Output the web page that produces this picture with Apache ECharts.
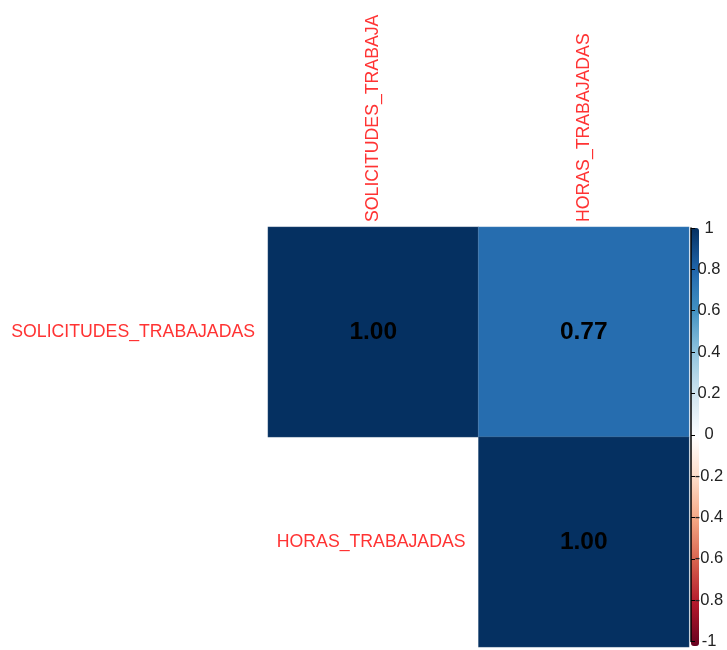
<!DOCTYPE html>
<html>
<head>
<meta charset="utf-8">
<script src="https://cdn.jsdelivr.net/npm/echarts@6/dist/echarts.min.js"></script>
<style>html,body{margin:0;padding:0;background:#fff;}#c{width:727px;height:650px;}</style>
</head>
<body>
<div id="c"></div>
<script>
var variables = ['SOLICITUDES_TRABAJADAS', 'HORAS_TRABAJADAS'];
var colLabels = ['SOLICITUDES_TRABAJA', 'HORAS_TRABAJADAS'];
var rowLabels = ['SOLICITUDES_TRABAJADAS', 'HORAS_TRABAJADAS'];
// [column, row, correlation] upper triangle
var cells = [[0, 0, 1.00], [1, 0, 0.77], [1, 1, 1.00]];
var colorbarTicks = [-1, -0.8, -0.6, -0.4, -0.2, 0, 0.2, 0.4, 0.6, 0.8, 1];
var palette = ['#67001F', '#B2182B', '#D6604D', '#F4A582', '#FDDBC7', '#FFFFFF', '#D1E5F0', '#92C5DE', '#4393C3', '#2166AC', '#053061'];

var font = 'Liberation Sans, Arial, sans-serif';
var labelRed = '#FF3333';
var labelSize = 17.7;

var chart = echarts.init(document.getElementById('c'));
chart.setOption({
  animation: false,
  backgroundColor: '#fff',
  grid: [
    { left: 268, top: 227, width: 421, height: 420 },
    { left: 691, top: 228, width: 8, height: 418 }
  ],
  xAxis: [
    {
      type: 'category', gridIndex: 0, position: 'top', data: colLabels,
      axisLine: { show: false }, axisTick: { show: false }, splitLine: { show: false },
      axisLabel: { rotate: -90, margin: 5, color: labelRed, fontSize: labelSize, fontFamily: font, interval: 0 }
    },
    { type: 'value', gridIndex: 1, show: false, min: 0, max: 1 }
  ],
  yAxis: [
    {
      type: 'category', gridIndex: 0, data: variables, inverse: true,
      axisLine: { show: false }, axisTick: { show: false }, splitLine: { show: false },
      axisLabel: { show: false }
    },
    {
      type: 'value', gridIndex: 1, position: 'right', min: -1, max: 1, interval: 0.2, z: 10,
      axisLine: { show: true, lineStyle: { color: '#000', width: 1.5 } },
      axisTick: { show: true, length: 4, lineStyle: { color: '#000' } },
      splitLine: { show: false },
      axisLabel: {
        margin: 10, align: 'center', verticalAlign: 'middle',
        verticalAlignMinLabel: 'middle', verticalAlignMaxLabel: 'middle',
        fontSize: 16.5, fontFamily: font, color: '#222',
        formatter: function (v) {
          var r = Math.round(v * 10) / 10;
          return colorbarTicks.indexOf(r) >= 0 ? String(r) : '';
        }
      }
    }
  ],
  visualMap: {
    type: 'continuous', min: -1, max: 1, seriesIndex: 0, calculable: false,
    orient: 'vertical', left: 691, top: 228, itemWidth: 8, itemHeight: 418,
    inRange: { color: palette }, text: ['', ''], padding: 0, showLabel: false
  },
  series: [
    {
      type: 'heatmap', xAxisIndex: 0, yAxisIndex: 0, data: cells,
      itemStyle: { borderColor: 'rgba(255,255,255,0.25)', borderWidth: 0.5 },
      label: {
        show: true, color: '#000', fontSize: 24.5, fontWeight: 'bold', fontFamily: font,
        formatter: function (p) { return p.value[2].toFixed(2); }
      },
      emphasis: { disabled: true }
    },
    {
      type: 'custom', xAxisIndex: 0, yAxisIndex: 0,
      data: rowLabels.map(function (n, i) { return [i, i, n]; }),
      renderItem: function (params, api) {
        var c = api.coord([api.value(0), api.value(1)]);
        var s = api.size([1, 1]);
        return {
          type: 'text',
          style: {
            x: c[0] - s[0] / 2 - 13, y: c[1],
            text: rowLabels[params.dataIndex],
            fill: labelRed, font: labelSize + 'px ' + font,
            align: 'right', verticalAlign: 'middle'
          }
        };
      },
      silent: true
    }
  ]
});
</script>
</body>
</html>
